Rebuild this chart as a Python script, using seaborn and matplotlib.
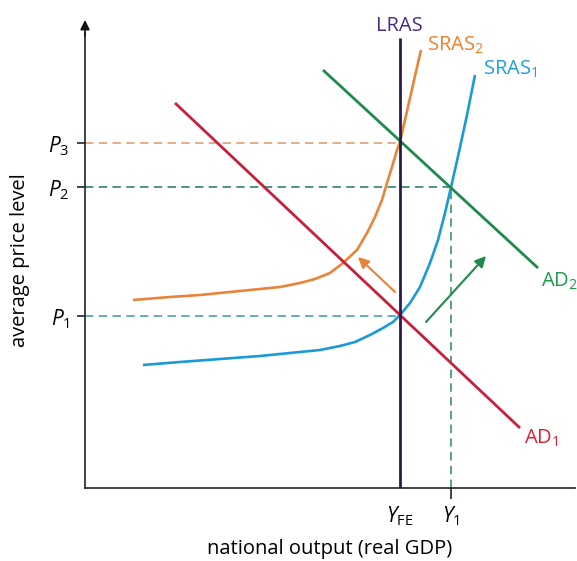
import matplotlib
matplotlib.use("Agg")
import matplotlib.pyplot as plt
import seaborn as sns
import pandas as pd

# ---- data (chart units: x = national output, y = average price level) ----
ad1_x = [90, 435]
ad1_y = [385, 60]
ad2_x = [238, 453]
ad2_y = [418, 220]
lras_x = [315, 315]
lras_y = [0, 450]
sras1_x = [58, 95, 135, 175, 215, 235, 255, 270, 285, 298, 308, 315, 325, 335, 345, 353, 360, 367, 374, 382, 390]
sras1_y = [123, 126, 129, 132, 136, 138, 142, 146, 153, 160, 166, 173, 185, 201, 225, 248, 275, 305, 336, 373, 413]
sras2_x = [48, 85, 115, 145, 175, 195, 215, 230, 245, 258, 272, 282, 290, 297, 302, 307, 312, 315, 320, 325, 330, 336]
sras2_y = [188, 191, 193, 196, 199, 201, 205, 209, 215, 225, 238, 255, 271, 288, 305, 321, 338, 346, 368, 390, 412, 438]
price_levels = [172, 301, 345]
price_labels = [r"$\mathit{P}_{\mathrm{1}}$", r"$\mathit{P}_{\mathrm{2}}$", r"$\mathit{P}_{\mathrm{3}}$"]
output_levels = [315, 366]
output_labels = [r"$\mathit{Y}_{\mathrm{FE}}$", r"$\mathit{Y}_{\mathrm{1}}$"]
arrow_sras_shift = [(310, 196), (273, 231)]
arrow_ad_shift = [(341, 166), (401, 232)]

# ---- style ----
sns.set_theme(style="white")
FONT = "Open Sans"
plt.rcParams["font.family"] = [FONT, "DejaVu Sans"]
plt.rcParams["mathtext.fontset"] = "custom"
plt.rcParams["mathtext.rm"] = FONT
plt.rcParams["mathtext.it"] = FONT + ":italic"
plt.rcParams["text.color"] = "black"
plt.rcParams["xtick.color"] = "black"
plt.rcParams["ytick.color"] = "black"

C_RED = "#c8203c"; C_RED_T = "#e01f2e"
C_GREEN = "#1e8a4c"; C_GREEN_T = "#1e9a48"
C_BLUE = "#1b9ad8"; C_BLUE_T = "#1ba0e0"
C_ORANGE = "#e8843a"; C_ORANGE_T = "#f07f2a"
C_LRAS = "#2b1a4a"; C_LRAS_T = "#4a2c82"

fig = plt.figure(figsize=(5.77, 5.61), dpi=100)
ax = fig.add_axes([85 / 577, (561 - 488) / 561, 490 / 577, 468 / 561])
ax.set_xlim(0, 490)
ax.set_ylim(0, 468)

def curve(x, y, color, lw=2.0):
    df = pd.DataFrame({"x": x, "y": y})
    sns.lineplot(data=df, x="x", y="y", sort=False, estimator=None, color=color,
                 lw=lw, ax=ax, solid_capstyle="butt", solid_joinstyle="round")

# dashed guide lines
dash = (0, (5.5, 3.5))
ax.plot([0, lras_x[0]], [price_levels[0]] * 2, color="#3a98aa", lw=1.1, ls=dash)
ax.plot([0, output_levels[1]], [price_levels[1]] * 2, color="#1f7a5a", lw=1.1, ls=dash)
ax.plot([0, lras_x[0]], [price_levels[2]] * 2, color="#d8996a", lw=1.1, ls=dash)
ax.plot([output_levels[1]] * 2, [0, price_levels[1]], color="#2a8a5a", lw=1.1, ls=dash)

curve(sras2_x, sras2_y, C_ORANGE, 1.9)
curve(sras1_x, sras1_y, C_BLUE, 1.9)
curve(ad1_x, ad1_y, C_RED, 2.0)
curve(ad2_x, ad2_y, C_GREEN, 2.0)
curve(lras_x, lras_y, C_LRAS, 2.0)

# shift arrows
ax.annotate("", xy=arrow_sras_shift[1], xytext=arrow_sras_shift[0],
            arrowprops=dict(arrowstyle="-|>", color=C_ORANGE, lw=1.5, mutation_scale=16,
                            shrinkA=0, shrinkB=0))
ax.annotate("", xy=arrow_ad_shift[1], xytext=arrow_ad_shift[0],
            arrowprops=dict(arrowstyle="-|>", color=C_GREEN, lw=1.5, mutation_scale=16,
                            shrinkA=0, shrinkB=0))

# curve labels
fs = 14.5
ax.text(314, 457, "LRAS", color=C_LRAS_T, fontsize=fs, ha="center", va="baseline")
ax.text(342, 437, r"SRAS$_{\mathrm{2}}$", color=C_ORANGE_T, fontsize=fs, ha="left", va="baseline")
ax.text(398, 413, r"SRAS$_{\mathrm{1}}$", color=C_BLUE_T, fontsize=fs, ha="left", va="baseline")
ax.text(456, 201, r"AD$_{\mathrm{2}}$", color=C_GREEN_T, fontsize=fs, ha="left", va="baseline")
ax.text(439, 44, r"AD$_{\mathrm{1}}$", color=C_RED_T, fontsize=fs, ha="left", va="baseline")

# axes
for s in ["top", "right"]:
    ax.spines[s].set_visible(False)
for s in ["left", "bottom"]:
    ax.spines[s].set_color("#222222")
    ax.spines[s].set_linewidth(1.2)
ax.spines["left"].set_bounds(0, 455)
ax.annotate("", xy=(0, 468), xytext=(0, 452),
            arrowprops=dict(arrowstyle="-|>", color="#111111", lw=1.2, mutation_scale=14,
                            shrinkA=0, shrinkB=0), annotation_clip=False)

ax.set_yticks(price_levels)
ax.set_yticklabels(price_labels, fontsize=15)
ax.set_xticks(output_levels)
ax.set_xticklabels(output_labels, fontsize=15)
ax.tick_params(axis="y", direction="out", length=6, width=1.2, color="#222222", pad=5, left=True)
ax.tick_params(axis="x", direction="out", length=8, width=1.2, color="#222222", pad=4, bottom=True)
ax.xaxis.get_major_ticks()[0].tick1line.set_visible(False)
ax.set_xlabel("")
ax.set_ylabel("")

fig.text(330 / 577, 1 - 549 / 561, "national output (real GDP)", fontsize=14.5, ha="center", va="center")
fig.text(20 / 577, 1 - 260 / 561, "average price level", fontsize=14.5, ha="center", va="center", rotation=90)

fig.savefig("out.png", dpi=100)
